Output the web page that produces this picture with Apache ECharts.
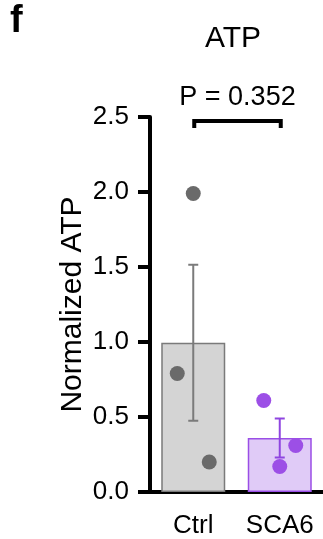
<!DOCTYPE html>
<html>
<head>
<meta charset="utf-8">
<script src="https://cdn.jsdelivr.net/npm/echarts@6/dist/echarts.min.js"></script>
<style>
  html, body { margin: 0; padding: 0; background: #fff; }
  #chart { width: 323px; height: 539px; }
</style>
</head>
<body>
<div id="chart"></div>
<script>
// data
var groups = ['Ctrl', 'SCA6'];
var means = [0.995, 0.36];
var sems = [0.52, 0.13];
var ctrlPoints = [0.79, 0.20, 1.99];
var sca6Points = [0.61, 0.31, 0.17];
var yTicks = [0, 0.5, 1.0, 1.5, 2.0, 2.5];
var pText = 'P = 0.352';

// jitter of the dots around the bar centre (px)
var jitter = [-16, 16, 0];

var fills = ['#d4d4d4', '#e0cbf7'];
var borders = ['#7a7a7a', '#9a4ee6'];
var errColors = ['#7b7b7b', '#8f45e0'];
var dotColors = ['#6a6a6a', '#9c4fe6'];

var font = 'Liberation Sans, Arial, sans-serif';

function dots(vals, gi) {
  return vals.map(function (v, i) {
    return { value: [gi, v], symbolOffset: [jitter[i], 0] };
  });
}

var chart = echarts.init(document.getElementById('chart'));

chart.setOption({
  animation: false,
  grid: { left: 150, right: -5, top: 117, bottom: 46 },
  xAxis: {
    type: 'category',
    data: groups,
    axisLine: { lineStyle: { color: '#000', width: 4 } },
    axisTick: { alignWithLabel: true, length: 12, lineStyle: { color: '#000', width: 4 } },
    axisLabel: { interval: 0, hideOverlap: false, color: '#000', fontSize: 26, fontFamily: font, margin: 21 }
  },
  yAxis: {
    type: 'value',
    min: yTicks[0],
    max: yTicks[yTicks.length - 1],
    interval: 0.5,
    name: 'Normalized ATP',
    nameLocation: 'middle',
    nameGap: 62,
    nameMoveOverlap: false,
    nameTextStyle: { color: '#000', fontSize: 30, fontFamily: font },
    splitLine: { show: false },
    axisLine: { show: true, lineStyle: { color: '#000', width: 4 } },
    axisTick: { show: true, length: 12, lineStyle: { color: '#000', width: 4 } },
    axisLabel: {
      color: '#000', fontSize: 26, fontFamily: font, margin: 21,
      formatter: function (v) { return v.toFixed(1); }
    }
  },
  series: [
    {
      type: 'bar',
      barWidth: 64,
      z: 1,
      data: means.map(function (m, i) {
        return { value: m, itemStyle: { color: fills[i], borderColor: borders[i], borderWidth: 1.5 } };
      })
    },
    {
      type: 'custom',
      z: 3,
      data: means.map(function (m, i) { return [i, m - sems[i], m + sems[i]]; }),
      renderItem: function (params, api) {
        var i = api.value(0);
        var lo = api.coord([i, api.value(1)]);
        var hi = api.coord([i, api.value(2)]);
        var c = errColors[i];
        var st = { stroke: c, lineWidth: 2 };
        return {
          type: 'group',
          children: [
            { type: 'line', shape: { x1: lo[0], y1: lo[1], x2: hi[0], y2: hi[1] }, style: st },
            { type: 'line', shape: { x1: hi[0] - 5, y1: hi[1], x2: hi[0] + 5, y2: hi[1] }, style: st },
            { type: 'line', shape: { x1: lo[0] - 5, y1: lo[1], x2: lo[0] + 5, y2: lo[1] }, style: st }
          ]
        };
      }
    },
    {
      type: 'scatter',
      z: 5,
      symbolSize: 15,
      itemStyle: { color: dotColors[0], opacity: 1 },
      data: dots(ctrlPoints, 0)
    },
    {
      type: 'scatter',
      z: 5,
      symbolSize: 15,
      itemStyle: { color: dotColors[1], opacity: 1 },
      data: dots(sca6Points, 1)
    }
  ]
});

// bracket, p value, title and panel letter
var a = chart.convertToPixel({ xAxisIndex: 0 }, 0);
var b = chart.convertToPixel({ xAxisIndex: 0 }, 1);
chart.setOption({
  graphic: [
    { type: 'text', left: 10, top: 3,
      style: { text: 'f', font: 'bold 38px ' + font, fill: '#000' } },
    { type: 'text', x: 233, y: 39,
      style: { text: 'ATP', font: '30px ' + font, fill: '#000', textAlign: 'center', textVerticalAlign: 'middle' } },
    { type: 'text', x: (a + b) / 2 + 1, y: 98,
      style: { text: pText, font: '27px ' + font, fill: '#000', textAlign: 'center', textVerticalAlign: 'middle' } },
    { type: 'polyline',
      shape: { points: [[a + 1, 128], [a + 1, 121], [b + 1, 121], [b + 1, 128]] },
      style: { stroke: '#000', lineWidth: 4, fill: null } }
  ]
});
</script>
</body>
</html>
